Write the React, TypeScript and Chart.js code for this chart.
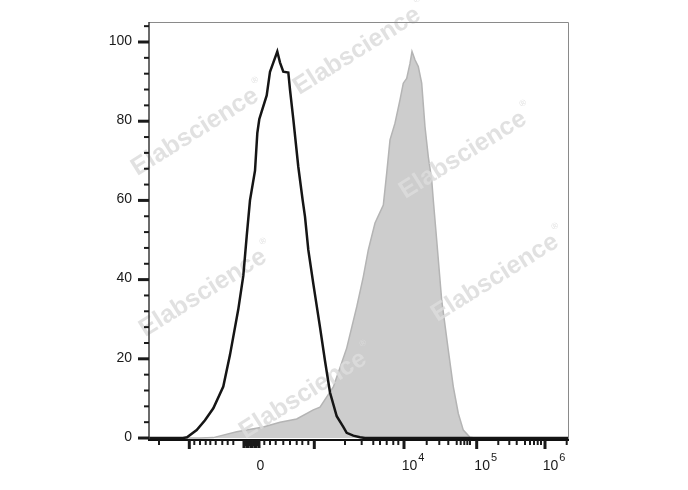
import React, { useEffect, useRef } from 'react';
import { Chart, registerables } from 'chart.js';

Chart.register(...registerables);

// Display channel (0..1000 across the biexponential x axis) and % of max events
const unstainedChannel = [0, 81.1, 90.7, 113.8, 133.6, 153.5, 177.3, 193.3, 213.1, 225.1, 233.2, 241.0, 253.0, 258.5, 263.2, 269.0, 280.9, 288.8, 296.7, 306.2, 312.7, 320.5, 332.5, 336.5, 344.4, 356.3, 366.8, 372.3, 380.2, 392.1, 408.1, 420.0, 432.0, 448.0, 463.7, 471.8, 487.6, 503.6, 515.5, 1000];
const unstainedCount = [0, 0, 0.2, 2.0, 4.5, 7.5, 13.0, 21.0, 32.5, 41.0, 51.0, 60.0, 67.5, 77.0, 80.5, 82.5, 86.5, 92.5, 94.8, 97.6, 94.8, 92.5, 92.3, 88.0, 80.5, 68.5, 60.0, 55.9, 47.5, 39.0, 28.0, 19.5, 11.5, 5.5, 2.8, 1.3, 0.6, 0.2, 0, 0];

const stainedChannel = [0, 121.7, 153.5, 209.3, 272.8, 312.7, 352.5, 392.1, 408.1, 439.9, 471.8, 495.7, 511.4, 523.4, 539.4, 559.2, 567.3, 575.2, 587.1, 599.0, 606.9, 615.0, 622.9, 627.7, 634.8, 642.7, 650.8, 658.7, 666.6, 674.7, 678.5, 686.6, 698.6, 714.3, 726.2, 738.2, 750.1, 766.1, 778.0, 1000];
const stainedCount = [0, 0, 0.1, 1.6, 2.8, 4.0, 4.8, 7.1, 7.8, 12.9, 22.7, 33.1, 40.7, 47.5, 54.3, 58.8, 66.9, 75.3, 79.5, 85.4, 89.6, 90.8, 94.6, 97.6, 95.5, 93.8, 89.6, 78.6, 71.0, 65.2, 60.1, 50.0, 34.8, 22.2, 13.0, 6.2, 2.0, 0.2, 0, 0];

// Axis ticks
const yMajorTicks = [0, 20, 40, 60, 80, 100];
const yMinorTicks = [4, 8, 12, 16, 24, 28, 32, 36, 44, 48, 52, 56, 64, 68, 72, 76, 84, 88, 92, 96, 104];
const xMajorTicks = [96.2, 394.5, 608.6, 782.1, 945.1];
const xZeroBandTicks = [225.5, 228.0, 230.3, 232.7, 235.1, 237.5, 239.9, 242.3, 244.6, 247.0, 249.4, 251.8, 254.2, 256.6, 259.0, 261.4, 263.7];
const xMinorTicks = [23.9, 108.1, 121.7, 135.3, 146.3, 159.2, 174.9, 187.8, 201.2, 275.2, 288.8, 302.4, 320.5, 336.5, 352.5, 365.9, 380.2, 467.8, 507.6, 535.3, 551.3, 567.3, 583.0, 595.0, 662.8, 692.8, 714.3, 734.4, 743.9, 752.5, 759.7, 766.1, 833.6, 859.9, 877.6, 897.4, 909.3, 918.8, 927.7, 935.5, 996.9];
const xLabelChannels = [244.6, 608.6, 782.1, 945.1];
const xLabelBase = ['0', '10', '10', '10'];
const xLabelExponent = ['', '4', '5', '6'];

const watermarkCenters: [number, number][] = [
  [195, 132], [357, 51], [463, 155], [203, 293], [495, 278], [303, 395],
];

const FONT = '"Liberation Sans", Arial, Helvetica, sans-serif';

function drawWatermarks(ctx: CanvasRenderingContext2D) {
  ctx.save();
  for (const [cx, cy] of watermarkCenters) {
    ctx.save();
    ctx.translate(cx, cy);
    ctx.rotate((-32 * Math.PI) / 180);
    ctx.font = `bold 25px ${FONT}`;
    ctx.fillStyle = 'rgba(220,220,220,0.85)';
    ctx.textAlign = 'center';
    ctx.textBaseline = 'middle';
    const w = ctx.measureText('Elabscience').width;
    ctx.fillText('Elabscience', 0, 0);
    ctx.font = `9px ${FONT}`;
    ctx.fillText('®', w / 2 + 6, -12);
    ctx.restore();
  }
  ctx.restore();
}

const axesPlugin = {
  id: 'flowAxes',
  afterDatasetDraw(chart: any, args: any) {
    if (args.index === 1) drawWatermarks(chart.ctx);
  },
  afterDraw(chart: any) {
    const ctx: CanvasRenderingContext2D = chart.ctx;
    const { left, right, top, bottom } = chart.chartArea;
    const xs = chart.scales.x;
    const ys = chart.scales.y;
    ctx.save();
    // frame
    ctx.strokeStyle = '#8a8a8a';
    ctx.lineWidth = 1;
    ctx.beginPath();
    ctx.moveTo(left, top + 0.5);
    ctx.lineTo(right + 0.5, top + 0.5);
    ctx.lineTo(right + 0.5, bottom);
    ctx.stroke();
    ctx.strokeStyle = '#3a3a3a';
    ctx.lineWidth = 1.5;
    ctx.beginPath();
    ctx.moveTo(left, top);
    ctx.lineTo(left, bottom);
    ctx.stroke();
    ctx.strokeStyle = '#111';
    ctx.lineWidth = 2;
    ctx.beginPath();
    ctx.moveTo(left - 1, bottom);
    ctx.lineTo(right + 1, bottom);
    ctx.stroke();

    // y ticks
    ctx.strokeStyle = '#1a1a1a';
    ctx.lineWidth = 3;
    for (const v of yMajorTicks) {
      const y = ys.getPixelForValue(v);
      ctx.beginPath();
      ctx.moveTo(left - 11, y);
      ctx.lineTo(left, y);
      ctx.stroke();
    }
    ctx.lineWidth = 2;
    for (const v of yMinorTicks) {
      const y = ys.getPixelForValue(v);
      ctx.beginPath();
      ctx.moveTo(left - 5, y);
      ctx.lineTo(left, y);
      ctx.stroke();
    }
    ctx.fillStyle = '#1a1a1a';
    ctx.font = `14px ${FONT}`;
    ctx.textAlign = 'right';
    ctx.textBaseline = 'middle';
    for (const v of yMajorTicks) {
      ctx.fillText(String(v), left - 17, ys.getPixelForValue(v) - 1);
    }

    // x ticks
    ctx.lineWidth = 3;
    for (const v of xMajorTicks) {
      const x = xs.getPixelForValue(v);
      ctx.beginPath();
      ctx.moveTo(x, bottom);
      ctx.lineTo(x, bottom + 9);
      ctx.stroke();
    }
    ctx.lineWidth = 2;
    xZeroBandTicks.forEach((v, i) => {
      const x = xs.getPixelForValue(v);
      ctx.beginPath();
      ctx.moveTo(x, bottom);
      ctx.lineTo(x, bottom + (i % 4 === 2 ? 6 : 8));
      ctx.stroke();
    });
    for (const v of xMinorTicks) {
      const x = xs.getPixelForValue(v);
      ctx.beginPath();
      ctx.moveTo(x, bottom);
      ctx.lineTo(x, bottom + 5);
      ctx.stroke();
    }

    // x labels
    ctx.textAlign = 'left';
    ctx.textBaseline = 'middle';
    xLabelChannels.forEach((v, i) => {
      const cx = xs.getPixelForValue(v) + 9;
      ctx.font = `14px ${FONT}`;
      const wb = ctx.measureText(xLabelBase[i]).width;
      ctx.font = `11px ${FONT}`;
      const we = xLabelExponent[i] ? ctx.measureText(xLabelExponent[i]).width + 1 : 0;
      const x0 = cx - (wb + we) / 2;
      ctx.font = `14px ${FONT}`;
      ctx.fillText(xLabelBase[i], x0, bottom + 26);
      if (xLabelExponent[i]) {
        ctx.font = `11px ${FONT}`;
        ctx.fillText(xLabelExponent[i], x0 + wb + 1, bottom + 18);
      }
    });
    ctx.restore();
  },
};

export default function App() {
  const ref = useRef<HTMLCanvasElement>(null);
  useEffect(() => {
    if (!ref.current) return;
    const chart = new Chart(ref.current, {
      type: 'line',
      data: {
        datasets: [
          {
            label: 'Unstained',
            data: unstainedChannel.map((x, i) => ({ x, y: unstainedCount[i] })),
            borderColor: '#151515',
            borderWidth: 2.5,
            backgroundColor: 'rgba(0,0,0,0)',
            fill: false,
            pointRadius: 0,
            tension: 0,
            order: 0,
          },
          {
            label: 'Stained',
            data: stainedChannel.map((x, i) => ({ x, y: stainedCount[i] })),
            borderColor: '#b4b4b4',
            borderWidth: 1.5,
            backgroundColor: '#cdcdcd',
            fill: 'origin',
            pointRadius: 0,
            tension: 0,
            order: 1,
          },
        ],
      },
      options: {
        responsive: false,
        animation: false,
        devicePixelRatio: 1,
        layout: { padding: { left: 149, right: 120, top: 22, bottom: 50 } },
        plugins: { legend: { display: false }, tooltip: { enabled: false } },
        scales: {
          x: { type: 'linear', min: 0, max: 1000, display: false },
          y: { type: 'linear', min: -0.5, max: 105.05, display: false },
        },
      },
      plugins: [axesPlugin],
    } as any);
    return () => chart.destroy();
  }, []);
  return (
    <div style={{ position: 'absolute', left: 0, top: 0, width: 688, height: 490, background: '#fff' }}>
      <canvas ref={ref} width={688} height={490} style={{ display: 'block', width: 688, height: 490 }} />
    </div>
  );
}
